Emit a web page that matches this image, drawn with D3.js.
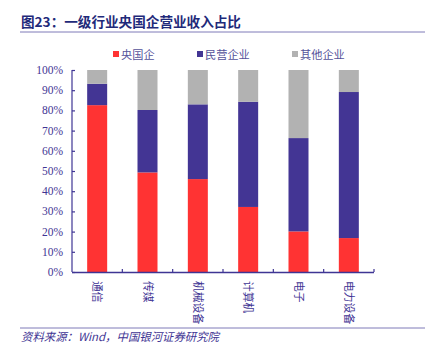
<!DOCTYPE html>
<html><head><meta charset="utf-8">
<script src="https://cdn.jsdelivr.net/npm/d3@7"></script>
<style>body{margin:0;background:#fff}</style>
</head><body>
<svg id="c" width="425" height="348"></svg>
<script>
const categories = ["通信","传媒","机械设备","计算机","电子","电力设备"];
const seriesNames = ["央国企","民营企业","其他企业"];
const soe = [82.6, 49.3, 46.0, 32.2, 20.1, 16.8];
const privateCo = [10.6, 30.9, 37.0, 52.1, 46.2, 72.3];
const other = categories.map((c,i)=>+(100 - soe[i] - privateCo[i]).toFixed(1));
const yTicks = [0,10,20,30,40,50,60,70,80,90,100];
const colors = ["#ff3333","#433594","#b2b2b2"];

const svg = d3.select("#c");
const axisColor = "#3f3594";
const cjk = "'Noto Sans CJK SC','Noto Sans',sans-serif";
const serif = "'Liberation Serif','DejaVu Serif',serif";

// title
svg.append("text").attr("x",21).attr("y",27).text("图23：一级行业央国企营业收入占比")
  .attr("font-family",cjk).attr("font-weight","bold").attr("font-size",13.6).attr("fill","#1f2a7a");
svg.append("line").attr("x1",20).attr("x2",425).attr("y1",32).attr("y2",32)
  .attr("stroke","#7f7bb8").attr("stroke-width",1);

const x = d3.scaleBand().domain(categories).range([72,374]).paddingInner(0).paddingOuter(0);
const y = d3.scaleLinear().domain([0,100]).range([272,70]);

const rows = categories.map((c,i)=>({cat:c, s0:soe[i], s1:privateCo[i], s2:other[i]}));
const stack = d3.stack().keys(["s0","s1","s2"])(rows);
const barW = 20;
stack.forEach((layer,k)=>{
  svg.append("g").selectAll("rect").data(layer).join("rect")
    .attr("x",d=>x(d.data.cat)+x.bandwidth()/2-barW/2)
    .attr("width",barW)
    .attr("y",d=>y(d[1]))
    .attr("height",d=>y(d[0])-y(d[1]))
    .attr("fill",colors[k]);
});

// y axis
const ya = svg.append("g").attr("transform","translate(72,0)")
  .call(d3.axisRight(y).tickValues(yTicks).tickSize(3).tickFormat(""));
ya.selectAll("path,line").attr("stroke",axisColor).attr("stroke-width",1.2);
ya.select(".domain").attr("d","M0,70V272");
svg.append("g").selectAll("text").data(yTicks).join("text")
  .attr("x",63).attr("y",d=>y(d)+4).attr("text-anchor","end")
  .attr("font-family",serif).attr("font-size",11.5).attr("fill","#3f3594")
  .text(d=>d+"%");

// x axis
svg.append("line").attr("x1",72).attr("x2",374).attr("y1",272.5).attr("y2",272.5)
  .attr("stroke",axisColor).attr("stroke-width",1.5);
const bounds = categories.map(c=>x(c)+x.bandwidth());
svg.append("g").selectAll("line").data(bounds).join("line")
  .attr("x1",d=>d).attr("x2",d=>d).attr("y1",272).attr("y2",269)
  .attr("stroke",axisColor).attr("stroke-width",1.2);
svg.append("g").selectAll("text").data(categories).join("text")
  .attr("transform",d=>`translate(${x(d)+x.bandwidth()/2-4},281) rotate(90)`)
  .attr("font-family",cjk).attr("font-size",10.8).attr("fill","#3f3594")
  .text(d=>d);

// legend
const legX = [113,197,292];
seriesNames.forEach((n,k)=>{
  svg.append("rect").attr("x",legX[k]).attr("y",51).attr("width",6).attr("height",6).attr("fill",colors[k]);
  svg.append("text").attr("x",legX[k]+8).attr("y",58.5).text(n)
    .attr("font-family",cjk).attr("font-size",11.2).attr("fill","#55529a");
});

// footer
svg.append("line").attr("x1",20).attr("x2",425).attr("y1",328).attr("y2",328)
  .attr("stroke","#7f7bb8").attr("stroke-width",1);
svg.append("text").attr("x",21).attr("y",341).text("资料来源：Wind，中国银河证券研究院")
  .attr("font-family",cjk).attr("font-style","italic").attr("font-size",11.4).attr("fill","#3f3594");
</script>
</body></html>
